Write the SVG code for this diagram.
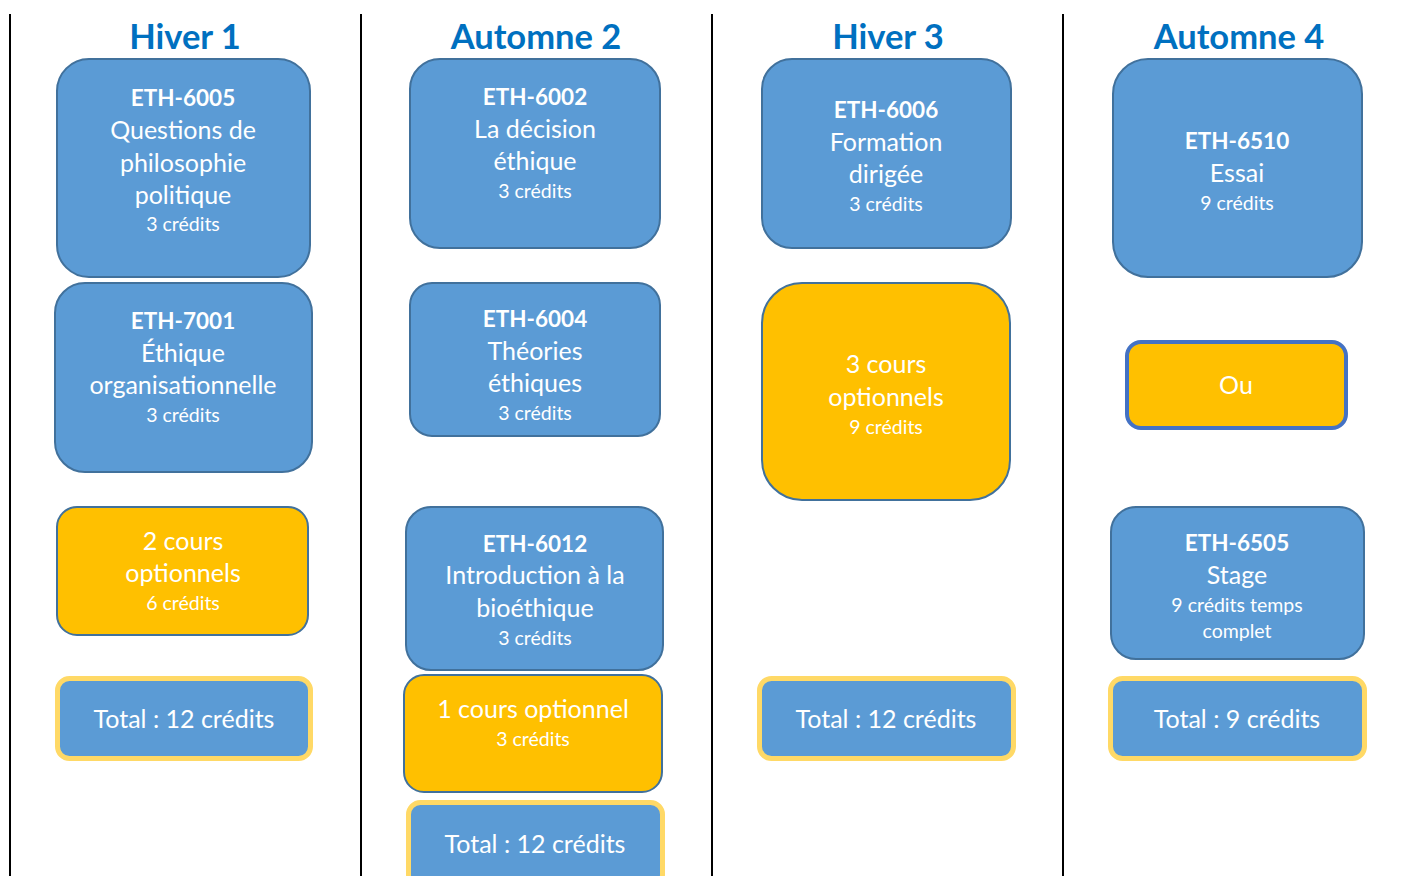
<svg xmlns="http://www.w3.org/2000/svg" width="1413" height="876" viewBox="0 0 1413 876">
<style>
.div{stroke:#000;stroke-width:2}
.hd{font-family:Lato,"Liberation Sans",sans-serif;font-weight:bold;font-size:34.5px;fill:#0070C0;text-anchor:middle}
.bl{fill:#5B9BD5;stroke:#41719C;stroke-width:2}
.or{fill:#FFC000;stroke:#41719C;stroke-width:2}
.ou{fill:#FFC000;stroke:#4472C4;stroke-width:4}
.tot{fill:#5B9BD5;stroke:#FFD966;stroke-width:5}
text.t{font-family:Lato,"Liberation Sans",sans-serif;fill:#fff;text-anchor:middle;font-size:25px}
text.b{font-weight:bold;font-size:22.5px}
text.s{font-size:19.5px}
</style>
<rect width="1413" height="876" fill="#fff"/>
<g id="dividers">
<line class="div" x1="10" y1="14" x2="10" y2="876"/>
<line class="div" x1="361" y1="14" x2="361" y2="876"/>
<line class="div" x1="712" y1="14" x2="712" y2="876"/>
<line class="div" x1="1063" y1="14" x2="1063" y2="876"/>
</g>
<g id="headers">
<text class="hd" x="185" y="49">Hiver 1</text>
<text class="hd" x="536" y="49">Automne 2</text>
<text class="hd" x="888" y="49">Hiver 3</text>
<text class="hd" x="1239" y="49">Automne 4</text>
</g>
<g id="connectors"></g>
<g id="eth6005">
<rect class="bl" x="57" y="59" width="253" height="218" rx="32"/>
<text class="t b" x="183" y="106">ETH-6005</text>
<text class="t" x="183" y="139">Questions de</text>
<text class="t" x="183" y="172">philosophie</text>
<text class="t" x="183" y="204">politique</text>
<text class="t s" x="183" y="231">3 crédits</text>
</g>
<g id="eth7001">
<rect class="bl" x="55" y="283" width="257" height="189" rx="30"/>
<text class="t b" x="183" y="329">ETH-7001</text>
<text class="t" x="183" y="362">Éthique</text>
<text class="t" x="183" y="394">organisationnelle</text>
<text class="t s" x="183" y="422">3 crédits</text>
</g>
<g id="opt1">
<rect class="or" x="57" y="507" width="251" height="128" rx="20"/>
<text class="t" x="183" y="550">2 cours</text>
<text class="t" x="183" y="582">optionnels</text>
<text class="t s" x="183" y="610">6 crédits</text>
</g>
<g id="total1">
<rect class="tot" x="57.5" y="678.5" width="253" height="80" rx="12"/>
<text class="t" x="184" y="728">Total : 12 crédits</text>
</g>
<g id="eth6002">
<rect class="bl" x="410" y="59" width="250" height="189" rx="30"/>
<text class="t b" x="535" y="105">ETH-6002</text>
<text class="t" x="535" y="138">La décision</text>
<text class="t" x="535" y="170">éthique</text>
<text class="t s" x="535" y="198">3 crédits</text>
</g>
<g id="eth6004">
<rect class="bl" x="410" y="283" width="250" height="153" rx="22"/>
<text class="t b" x="535" y="327">ETH-6004</text>
<text class="t" x="535" y="360">Théories</text>
<text class="t" x="535" y="392">éthiques</text>
<text class="t s" x="535" y="420">3 crédits</text>
</g>
<g id="eth6012">
<rect class="bl" x="406" y="507" width="257" height="163" rx="25"/>
<text class="t b" x="535" y="552">ETH-6012</text>
<text class="t" x="535" y="584">Introduction à la</text>
<text class="t" x="535" y="617">bioéthique</text>
<text class="t s" x="535" y="645">3 crédits</text>
</g>
<g id="opt2">
<rect class="or" x="404" y="675" width="258" height="117" rx="20"/>
<text class="t" x="533" y="718">1 cours optionnel</text>
<text class="t s" x="533" y="746">3 crédits</text>
</g>
<g id="total2">
<rect class="tot" x="408.5" y="802.5" width="254" height="84" rx="12"/>
<text class="t" x="535" y="853">Total : 12 crédits</text>
</g>
<g id="eth6006">
<rect class="bl" x="762" y="59" width="249" height="189" rx="30"/>
<text class="t b" x="886" y="118">ETH-6006</text>
<text class="t" x="886" y="151">Formation</text>
<text class="t" x="886" y="183">dirigée</text>
<text class="t s" x="886" y="211">3 crédits</text>
</g>
<g id="opt3">
<rect class="or" x="762" y="283" width="248" height="217" rx="40"/>
<text class="t" x="886" y="373">3 cours</text>
<text class="t" x="886" y="406">optionnels</text>
<text class="t s" x="886" y="434">9 crédits</text>
</g>
<g id="total3">
<rect class="tot" x="759.5" y="678.5" width="254" height="80" rx="12"/>
<text class="t" x="886" y="728">Total : 12 crédits</text>
</g>
<g id="eth6510">
<rect class="bl" x="1113" y="59" width="249" height="218" rx="35"/>
<text class="t b" x="1237" y="149">ETH-6510</text>
<text class="t" x="1237" y="182">Essai</text>
<text class="t s" x="1237" y="210">9 crédits</text>
</g>
<g id="ou">
<rect class="ou" x="1127" y="342" width="219" height="86" rx="14"/>
<text class="t" x="1236" y="394">Ou</text>
</g>
<g id="eth6505">
<rect class="bl" x="1111" y="507" width="253" height="152" rx="25"/>
<text class="t b" x="1237" y="551">ETH-6505</text>
<text class="t" x="1237" y="584">Stage</text>
<text class="t s" x="1237" y="612">9 crédits temps</text>
<text class="t s" x="1237" y="638">complet</text>
</g>
<g id="total4">
<rect class="tot" x="1110.5" y="678.5" width="254" height="80" rx="12"/>
<text class="t" x="1237" y="728">Total : 9 crédits</text>
</g>
</svg>
